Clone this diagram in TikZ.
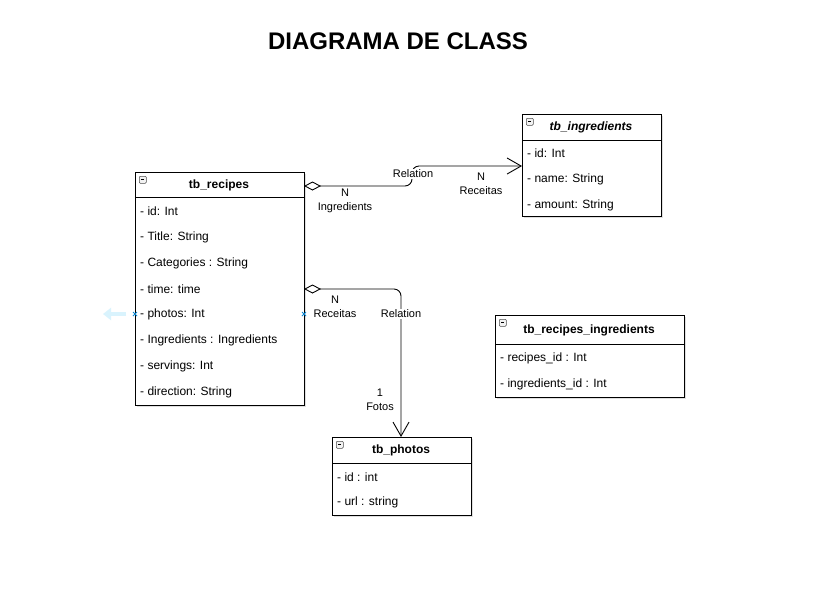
\documentclass[tikz,border=0pt]{standalone}
\usepackage{fontspec}
\setmainfont{Liberation Sans}
\usetikzlibrary{arrows.meta,shadows}
\tikzset{
  cls/.style={draw=black, fill=white, line width=0.9pt, anchor=north west, inner sep=0pt,
    drop shadow={shadow xshift=2pt, shadow yshift=-2pt, opacity=0.25, fill=gray}},
  hdr/.style={font=\fontsize{12}{14}\selectfont\bfseries},
  attr/.style={font=\fontsize{12}{14}\selectfont, anchor=west, inner sep=0pt},
  lbl/.style={font=\fontsize{11}{14}\selectfont, fill=white, inner sep=1pt, align=center},
  mini/.style={draw=black!70, fill=black!5, line width=0.5pt, minimum size=7pt, inner sep=0pt, anchor=north west, rounded corners=1pt},
  rel/.style={line width=0.9pt, rounded corners=7pt},
  aggr/.style={rel, {Diamond[open, length=17pt, width=9pt]}-{Straight Barb[length=14pt, width=16pt]}},
  hov/.style={draw=cyan!70!blue, line width=0.8pt}
}
\begin{document}
\begin{tikzpicture}[x=1pt, y=-1pt]
\useasboundingbox (0,0) rectangle (818,595);
\fill[white] (0,0) rectangle (818,595);

\node[font=\fontsize{24}{28}\selectfont\bfseries] (title) at (398,41) {DIAGRAMA DE CLASS};

% tb_recipes
\node[cls, minimum width=169pt, minimum height=233pt] (rec) at (135,172) {};
\draw[line width=0.9pt] (135,197) -- (304,197);
\node[mini] (recm) at (139,176) {};
\draw[line width=0.5pt] (141,179.5) -- (144,179.5);
\node[hdr] (rech) at (219,185) {tb\_recipes};
\node[attr] (r1) at (140,211) {- id: Int};
\node[attr] (r2) at (140,237) {- Title: String};
\node[attr] (r3) at (140,263) {- Categories : String};
\node[attr] (r4) at (140,289) {- time: time};
\node[attr] (r5) at (140,314) {- photos: Int};
\node[attr] (r6) at (140,340) {- Ingredients : Ingredients};
\node[attr] (r7) at (140,366) {- servings: Int};
\node[attr] (r8) at (140,392) {- direction: String};

% tb_ingredients
\node[cls, minimum width=139pt, minimum height=102pt] (ing) at (522,114) {};
\draw[line width=0.9pt] (522,140) -- (661,140);
\node[mini] (ingm) at (526,118) {};
\draw[line width=0.5pt] (528,121.5) -- (531,121.5);
\node[hdr, font=\fontsize{12}{14}\selectfont\bfseries\itshape] (ingh) at (591,127) {tb\_ingredients};
\node[attr] (i1) at (527,153) {- id: Int};
\node[attr] (i2) at (527,179) {- name: String};
\node[attr] (i3) at (527,205) {- amount: String};

% tb_recipes_ingredients
\node[cls, minimum width=189pt, minimum height=82pt] (ri) at (495,315) {};
\draw[line width=0.9pt] (495,344) -- (684,344);
\node[mini] (rim) at (499,319) {};
\draw[line width=0.5pt] (501,322.5) -- (504,322.5);
\node[hdr] (rih) at (589,330) {tb\_recipes\_ingredients};
\node[attr] (ri1) at (500,358) {- recipes\_id : Int};
\node[attr] (ri2) at (500,384) {- ingredients\_id : Int};

% tb_photos
\node[cls, minimum width=139pt, minimum height=78pt] (ph) at (332,437) {};
\draw[line width=0.9pt] (332,463) -- (471,463);
\node[mini] (phm) at (336,441) {};
\draw[line width=0.5pt] (338,444.5) -- (341,444.5);
\node[hdr] (phh) at (401,450) {tb\_photos};
\node[attr] (p1) at (337,477) {- id : int};
\node[attr] (p2) at (337,502) {- url : string};

% connectors
\coordinate (a1) at (304,186);
\coordinate (b1) at (522,166);
\draw[aggr] (a1) -- (412,186) -- (412,166) -- (b1);
\node[lbl] (l1) at (413,174) {Relation};
\node[lbl] (l2) at (345,201) {N\\Ingredients};
\node[lbl] (l3) at (481,184) {N\\Receitas};

\coordinate (a2) at (304,289);
\coordinate (b2) at (401,437);
\draw[aggr] (a2) -- (401,289) -- (b2);
\node[lbl] (l4) at (335,307) {N\\Receitas};
\node[lbl] (l5) at (401,314) {Relation};
\node[lbl, fill=none] (l6) at (380,400) {1\\Fotos};

% hover artefacts
\draw[cyan!15, line width=4pt, -{Triangle[length=8pt,width=12pt]}] (126,314) -- (103,314);
\draw[hov] (133,312) -- (137,316) (133,316) -- (137,312);
\draw[hov] (302,312) -- (306,316) (302,316) -- (306,312);
\end{tikzpicture}
\end{document}
